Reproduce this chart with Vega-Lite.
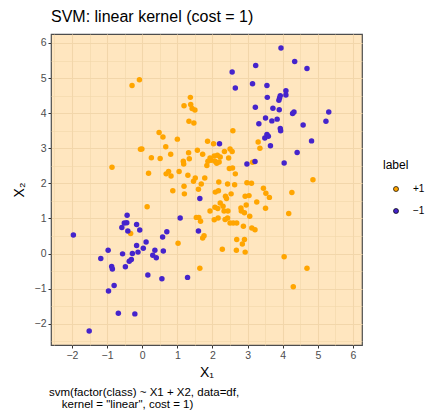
{
  "$schema": "https://vega.github.io/schema/vega-lite/v6.json",
  "autosize": {"type": "pad"},
  "padding": {"left": 11, "top": 9, "right": 0, "bottom": 0},
  "title": {"text": "SVM: linear kernel (cost = 1)", "anchor": "start", "frame": "group", "fontSize": 16, "font": "Liberation Sans", "fontWeight": "normal", "color": "#000000", "offset": 8},
  "vconcat": [
    {
      "width": 311,
      "height": 311,
      "title": {"text": ["svm(factor(class) ~ X1 + X2, data=df,", "\u200b\u00a0\u00a0\u00a0\u00a0kernel = \"linear\", cost = 1)"], "orient": "bottom", "anchor": "start", "frame": "group", "align": "left", "dx": -2, "fontSize": 11.5, "lineHeight": 12.3, "font": "Liberation Sans", "fontWeight": "normal", "color": "#000000", "offset": 7},
      "data": {"values": [
        {"x1": -0.29, "x2": 4.79, "label": "+1"},
        {"x1": -0.08, "x2": 4.95, "label": "+1"},
        {"x1": 1.37, "x2": 4.45, "label": "+1"},
        {"x1": 1.19, "x2": 4.21, "label": "+1"},
        {"x1": 1.38, "x2": 4.25, "label": "+1"},
        {"x1": 1.42, "x2": 4.13, "label": "+1"},
        {"x1": 1.50, "x2": 4.09, "label": "+1"},
        {"x1": -0.86, "x2": 2.46, "label": "+1"},
        {"x1": 1.33, "x2": 3.77, "label": "+1"},
        {"x1": 1.47, "x2": 3.72, "label": "+1"},
        {"x1": 2.58, "x2": 3.50, "label": "+1"},
        {"x1": 0.48, "x2": 3.45, "label": "+1"},
        {"x1": 0.59, "x2": 3.32, "label": "+1"},
        {"x1": 1.00, "x2": 3.26, "label": "+1"},
        {"x1": 1.86, "x2": 3.20, "label": "+1"},
        {"x1": 2.03, "x2": 3.13, "label": "+1"},
        {"x1": -0.01, "x2": 2.98, "label": "+1"},
        {"x1": -0.05, "x2": 2.97, "label": "+1"},
        {"x1": 0.67, "x2": 3.04, "label": "+1"},
        {"x1": 1.57, "x2": 2.94, "label": "+1"},
        {"x1": 1.72, "x2": 2.83, "label": "+1"},
        {"x1": 0.81, "x2": 2.83, "label": "+1"},
        {"x1": 1.32, "x2": 2.87, "label": "+1"},
        {"x1": 1.17, "x2": 2.63, "label": "+1"},
        {"x1": 1.18, "x2": 2.55, "label": "+1"},
        {"x1": 1.34, "x2": 2.70, "label": "+1"},
        {"x1": 0.26, "x2": 2.73, "label": "+1"},
        {"x1": 0.51, "x2": 2.71, "label": "+1"},
        {"x1": 2.34, "x2": 2.91, "label": "+1"},
        {"x1": 2.50, "x2": 2.98, "label": "+1"},
        {"x1": 2.56, "x2": 2.91, "label": "+1"},
        {"x1": 1.93, "x2": 2.72, "label": "+1"},
        {"x1": 2.05, "x2": 2.78, "label": "+1"},
        {"x1": 2.14, "x2": 2.80, "label": "+1"},
        {"x1": 2.22, "x2": 2.75, "label": "+1"},
        {"x1": 1.96, "x2": 2.66, "label": "+1"},
        {"x1": 2.07, "x2": 2.63, "label": "+1"},
        {"x1": 2.12, "x2": 2.57, "label": "+1"},
        {"x1": 2.19, "x2": 2.61, "label": "+1"},
        {"x1": 1.87, "x2": 2.63, "label": "+1"},
        {"x1": 1.84, "x2": 2.51, "label": "+1"},
        {"x1": 2.46, "x2": 2.72, "label": "+1"},
        {"x1": 2.57, "x2": 2.44, "label": "+1"},
        {"x1": 2.48, "x2": 2.42, "label": "+1"},
        {"x1": 2.65, "x2": 2.27, "label": "+1"},
        {"x1": 3.14, "x2": 2.60, "label": "+1"},
        {"x1": 3.30, "x2": 3.18, "label": "+1"},
        {"x1": 3.35, "x2": 3.00, "label": "+1"},
        {"x1": 0.18, "x2": 2.29, "label": "+1"},
        {"x1": 0.68, "x2": 2.27, "label": "+1"},
        {"x1": 0.75, "x2": 2.34, "label": "+1"},
        {"x1": 0.82, "x2": 2.21, "label": "+1"},
        {"x1": 1.05, "x2": 2.34, "label": "+1"},
        {"x1": 1.30, "x2": 2.23, "label": "+1"},
        {"x1": 1.51, "x2": 2.15, "label": "+1"},
        {"x1": 1.46, "x2": 2.06, "label": "+1"},
        {"x1": 1.68, "x2": 1.98, "label": "+1"},
        {"x1": 1.78, "x2": 2.15, "label": "+1"},
        {"x1": 1.19, "x2": 1.92, "label": "+1"},
        {"x1": 0.87, "x2": 1.79, "label": "+1"},
        {"x1": 1.60, "x2": 1.83, "label": "+1"},
        {"x1": 2.18, "x2": 2.04, "label": "+1"},
        {"x1": 2.43, "x2": 1.98, "label": "+1"},
        {"x1": 2.63, "x2": 1.96, "label": "+1"},
        {"x1": 2.98, "x2": 2.02, "label": "+1"},
        {"x1": 3.11, "x2": 2.00, "label": "+1"},
        {"x1": 3.45, "x2": 1.86, "label": "+1"},
        {"x1": 3.52, "x2": 1.72, "label": "+1"},
        {"x1": 3.62, "x2": 1.60, "label": "+1"},
        {"x1": 2.08, "x2": 1.75, "label": "+1"},
        {"x1": 2.17, "x2": 1.79, "label": "+1"},
        {"x1": 2.37, "x2": 1.63, "label": "+1"},
        {"x1": 2.40, "x2": 1.57, "label": "+1"},
        {"x1": 2.53, "x2": 1.70, "label": "+1"},
        {"x1": 2.93, "x2": 1.63, "label": "+1"},
        {"x1": 3.04, "x2": 1.65, "label": "+1"},
        {"x1": 3.26, "x2": 1.47, "label": "+1"},
        {"x1": 0.14, "x2": 1.33, "label": "+1"},
        {"x1": 1.20, "x2": 1.70, "label": "+1"},
        {"x1": 2.22, "x2": 1.44, "label": "+1"},
        {"x1": 2.30, "x2": 1.35, "label": "+1"},
        {"x1": 2.07, "x2": 1.32, "label": "+1"},
        {"x1": 2.15, "x2": 1.28, "label": "+1"},
        {"x1": 1.93, "x2": 1.21, "label": "+1"},
        {"x1": 2.33, "x2": 1.21, "label": "+1"},
        {"x1": 2.44, "x2": 1.21, "label": "+1"},
        {"x1": 2.81, "x2": 1.30, "label": "+1"},
        {"x1": 2.82, "x2": 1.21, "label": "+1"},
        {"x1": 2.96, "x2": 1.38, "label": "+1"},
        {"x1": 3.51, "x2": 1.29, "label": "+1"},
        {"x1": 2.91, "x2": 1.16, "label": "+1"},
        {"x1": 3.06, "x2": 1.06, "label": "+1"},
        {"x1": 2.43, "x2": 1.01, "label": "+1"},
        {"x1": 2.36, "x2": 0.97, "label": "+1"},
        {"x1": 2.16, "x2": 1.01, "label": "+1"},
        {"x1": 2.05, "x2": 0.96, "label": "+1"},
        {"x1": 1.54, "x2": 1.03, "label": "+1"},
        {"x1": 1.61, "x2": 1.03, "label": "+1"},
        {"x1": 1.66, "x2": 0.92, "label": "+1"},
        {"x1": 2.50, "x2": 0.87, "label": "+1"},
        {"x1": 2.59, "x2": 0.87, "label": "+1"},
        {"x1": 2.69, "x2": 0.87, "label": "+1"},
        {"x1": 2.88, "x2": 0.78, "label": "+1"},
        {"x1": 3.12, "x2": 0.73, "label": "+1"},
        {"x1": 3.21, "x2": 0.68, "label": "+1"},
        {"x1": 1.72, "x2": 0.44, "label": "+1"},
        {"x1": 1.76, "x2": 0.51, "label": "+1"},
        {"x1": 2.69, "x2": 0.40, "label": "+1"},
        {"x1": 2.91, "x2": 0.40, "label": "+1"},
        {"x1": 1.02, "x2": 0.29, "label": "+1"},
        {"x1": -0.33, "x2": 0.57, "label": "+1"},
        {"x1": 1.64, "x2": -0.42, "label": "+1"},
        {"x1": 4.26, "x2": 1.74, "label": "+1"},
        {"x1": 4.17, "x2": 1.14, "label": "+1"},
        {"x1": 2.85, "x2": 0.27, "label": "+1"},
        {"x1": 2.28, "x2": 0.12, "label": "+1"},
        {"x1": 2.68, "x2": 0.09, "label": "+1"},
        {"x1": 2.93, "x2": 0.04, "label": "+1"},
        {"x1": 4.04, "x2": -0.09, "label": "+1"},
        {"x1": 4.69, "x2": -0.42, "label": "+1"},
        {"x1": 4.30, "x2": -0.95, "label": "+1"},
        {"x1": 4.86, "x2": 2.10, "label": "+1"},
        {"x1": 3.95, "x2": 5.86, "label": "−1"},
        {"x1": 3.23, "x2": 5.36, "label": "−1"},
        {"x1": 4.34, "x2": 5.47, "label": "−1"},
        {"x1": 4.69, "x2": 5.27, "label": "−1"},
        {"x1": 2.56, "x2": 5.17, "label": "−1"},
        {"x1": 3.14, "x2": 4.84, "label": "−1"},
        {"x1": 3.55, "x2": 4.79, "label": "−1"},
        {"x1": 2.65, "x2": 4.72, "label": "−1"},
        {"x1": 4.09, "x2": 4.64, "label": "−1"},
        {"x1": 4.09, "x2": 4.52, "label": "−1"},
        {"x1": 3.93, "x2": 4.50, "label": "−1"},
        {"x1": 3.91, "x2": 4.43, "label": "−1"},
        {"x1": 3.89, "x2": 4.37, "label": "−1"},
        {"x1": 3.56, "x2": 4.45, "label": "−1"},
        {"x1": 3.22, "x2": 4.17, "label": "−1"},
        {"x1": 3.72, "x2": 4.14, "label": "−1"},
        {"x1": 3.90, "x2": 4.10, "label": "−1"},
        {"x1": 4.28, "x2": 3.99, "label": "−1"},
        {"x1": 4.32, "x2": 4.03, "label": "−1"},
        {"x1": 5.31, "x2": 4.03, "label": "−1"},
        {"x1": 5.23, "x2": 3.77, "label": "−1"},
        {"x1": 4.58, "x2": 3.66, "label": "−1"},
        {"x1": 3.69, "x2": 3.78, "label": "−1"},
        {"x1": 3.84, "x2": 3.83, "label": "−1"},
        {"x1": 3.93, "x2": 3.56, "label": "−1"},
        {"x1": 3.94, "x2": 3.50, "label": "−1"},
        {"x1": 4.82, "x2": 3.21, "label": "−1"},
        {"x1": 3.65, "x2": 3.07, "label": "−1"},
        {"x1": 4.41, "x2": 2.88, "label": "−1"},
        {"x1": 4.04, "x2": 2.58, "label": "−1"},
        {"x1": 3.51, "x2": 3.86, "label": "−1"},
        {"x1": 3.32, "x2": 3.70, "label": "−1"},
        {"x1": 3.55, "x2": 3.39, "label": "−1"},
        {"x1": 3.49, "x2": 3.29, "label": "−1"},
        {"x1": 3.59, "x2": 3.34, "label": "−1"},
        {"x1": 2.20, "x2": 3.13, "label": "−1"},
        {"x1": 2.98, "x2": 2.55, "label": "−1"},
        {"x1": 3.21, "x2": 2.62, "label": "−1"},
        {"x1": 1.64, "x2": 1.57, "label": "−1"},
        {"x1": 1.08, "x2": 1.01, "label": "−1"},
        {"x1": 1.60, "x2": 0.64, "label": "−1"},
        {"x1": 0.70, "x2": 0.62, "label": "−1"},
        {"x1": 0.58, "x2": 0.47, "label": "−1"},
        {"x1": -0.07, "x2": 0.67, "label": "−1"},
        {"x1": -0.43, "x2": 1.09, "label": "−1"},
        {"x1": -0.51, "x2": 0.87, "label": "−1"},
        {"x1": -0.44, "x2": 0.88, "label": "−1"},
        {"x1": -0.58, "x2": 0.74, "label": "−1"},
        {"x1": -0.16, "x2": 0.83, "label": "−1"},
        {"x1": -0.41, "x2": 0.64, "label": "−1"},
        {"x1": -1.96, "x2": 0.53, "label": "−1"},
        {"x1": 0.11, "x2": 0.33, "label": "−1"},
        {"x1": -0.16, "x2": 0.23, "label": "−1"},
        {"x1": -0.97, "x2": 0.09, "label": "−1"},
        {"x1": -1.18, "x2": -0.14, "label": "−1"},
        {"x1": -0.56, "x2": -0.01, "label": "−1"},
        {"x1": -0.28, "x2": 0.00, "label": "−1"},
        {"x1": -0.12, "x2": 0.04, "label": "−1"},
        {"x1": 0.03, "x2": 0.15, "label": "−1"},
        {"x1": 0.36, "x2": 0.09, "label": "−1"},
        {"x1": 0.60, "x2": 0.07, "label": "−1"},
        {"x1": 0.30, "x2": -0.05, "label": "−1"},
        {"x1": 0.40, "x2": -0.12, "label": "−1"},
        {"x1": -0.37, "x2": -0.22, "label": "−1"},
        {"x1": -0.31, "x2": -0.17, "label": "−1"},
        {"x1": -0.87, "x2": -0.37, "label": "−1"},
        {"x1": -0.85, "x2": -0.44, "label": "−1"},
        {"x1": -0.48, "x2": -0.38, "label": "−1"},
        {"x1": 0.16, "x2": -0.61, "label": "−1"},
        {"x1": 0.56, "x2": -0.72, "label": "−1"},
        {"x1": 1.29, "x2": -0.68, "label": "−1"},
        {"x1": -0.80, "x2": -0.91, "label": "−1"},
        {"x1": -0.96, "x2": -1.07, "label": "−1"},
        {"x1": -0.68, "x2": -1.70, "label": "−1"},
        {"x1": -0.21, "x2": -1.72, "label": "−1"},
        {"x1": -1.51, "x2": -2.21, "label": "−1"}
      ]},
      "mark": {"type": "point", "filled": true, "size": 30, "opacity": 1},
      "encoding": {
        "x": {
          "field": "x1", "type": "quantitative",
          "scale": {"domain": [-2.597, 6.256], "nice": false, "zero": false},
          "axis": {
            "title": "X₁",
            "values": [-2.5, -2, -1.5, -1, -0.5, 0, 0.5, 1, 1.5, 2, 2.5, 3, 3.5, 4, 4.5, 5, 5.5, 6],
            "labelExpr": "datum.value % 1 === 0 ? replace(format(datum.value, 'd'), '-', '−') : ''",
            "tickOpacity": {"condition": {"test": "datum.value % 1 !== 0", "value": 0}, "value": 1},
            "gridWidth": {"condition": {"test": "datum.value % 1 !== 0", "value": 0.6}, "value": 1.1},
            "titlePadding": 5
          }
        },
        "y": {
          "field": "x2", "type": "quantitative",
          "scale": {"domain": [-2.607, 6.256], "nice": false, "zero": false},
          "axis": {
            "title": "X₂",
            "values": [-2.5, -2, -1.5, -1, -0.5, 0, 0.5, 1, 1.5, 2, 2.5, 3, 3.5, 4, 4.5, 5, 5.5, 6],
            "labelExpr": "datum.value % 1 === 0 ? replace(format(datum.value, 'd'), '-', '−') : ''",
            "tickOpacity": {"condition": {"test": "datum.value % 1 !== 0", "value": 0}, "value": 1},
            "gridWidth": {"condition": {"test": "datum.value % 1 !== 0", "value": 0.6}, "value": 1.1},
            "titlePadding": 8
          }
        },
        "color": {
          "field": "label", "type": "nominal",
          "scale": {"domain": ["+1", "−1"], "range": ["#FFA500", "#4524CC"]},
          "legend": {"title": "label", "orient": "none", "legendX": 332, "legendY": 126}
        }
      }
    }
  ],
  "config": {
    "view": {"fill": "#FFE6BF", "stroke": "#4D4D4D", "strokeWidth": 1.2},
    "axis": {
      "domain": false,
      "grid": true,
      "gridColor": "#F2D6AA",
      "tickColor": "#333333",
      "tickSize": 3,
      "labelPadding": 2,
      "labelColor": "#4D4D4D",
      "labelFont": "Liberation Sans",
      "labelFontSize": 10.5,
      "titleFont": "Liberation Sans",
      "titleFontSize": 14,
      "titleFontWeight": "normal",
      "titleColor": "#000000"
    },
    "legend": {
      "titleFont": "Liberation Sans",
      "titleFontSize": 12,
      "titleFontWeight": "normal",
      "titleColor": "#000000",
      "titlePadding": 12,
      "labelFont": "Liberation Sans",
      "labelFontSize": 10,
      "labelColor": "#000000",
      "symbolSize": 25,
      "symbolStrokeColor": "#000000",
      "symbolStrokeWidth": 0.7,
      "symbolOffset": 8,
      "rowPadding": 12,
      "labelOffset": 12
    }
  }
}
